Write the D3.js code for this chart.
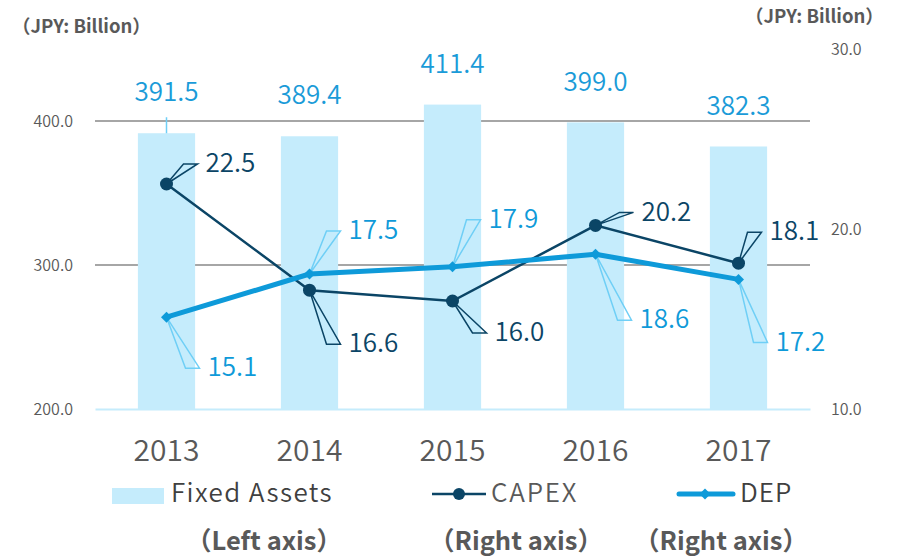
<!DOCTYPE html>
<html>
<head>
<meta charset="utf-8">
<script src="https://cdn.jsdelivr.net/npm/d3@7"></script>
<style>
  body { margin: 0; background: #fff; }
  svg text { font-family: "Noto Sans CJK JP", "Noto Sans", sans-serif; font-weight: 350; }
</style>
</head>
<body>
<div id="chart"></div>
<script>
/* DATA */
const years = ["2013", "2014", "2015", "2016", "2017"];
const fixedAssets = [391.5, 389.4, 411.4, 399.0, 382.3];
const capex = [22.5, 16.6, 16.0, 20.2, 18.1];
const dep = [15.1, 17.5, 17.9, 18.6, 17.2];
const leftTicks = [200, 300, 400];
const rightTicks = [10, 20, 30];

// label placement (text start x / text middle y, relative to the point)
const capexLabelPos = [[39, -20], [39, 54], [42, 32], [46, -13], [31, -31]];
const depLabelPos = [[41, 51], [39, -43], [36, -47], [44, 66], [37, 63]];

/* CONSTANTS */
const width = 897, height = 557;
const plot = { left: 95, right: 810, top: 49, bottom: 409 };
const colors = {
  bar: "#c5ecfc", barText: "#1a9bd8", capex: "#0b4566", dep: "#0e9ad9",
  depLeader: "#6fcff6", grid: "#a6a6a6", axisText: "#595959"
};

const svg = d3.select("#chart").append("svg")
  .attr("width", width).attr("height", height);

/* SCALES */
const x = d3.scaleBand().domain(years).range([plot.left, plot.right])
  .paddingInner(0.6).paddingOuter(0.3);
const yLeft = d3.scaleLinear().domain([200, 450]).range([plot.bottom, plot.top]);
const yRight = d3.scaleLinear().domain([10, 30]).range([plot.bottom, plot.top]);
const cx = d => x(d) + x.bandwidth() / 2;

/* GRID */
svg.append("g").selectAll("line")
  .data(leftTicks.filter(d => d > 200))
  .join("line")
  .attr("x1", plot.left).attr("x2", plot.right)
  .attr("y1", d => yLeft(d)).attr("y2", d => yLeft(d))
  .attr("stroke", colors.grid).attr("stroke-width", 2);

/* AXES */
const leftAxis = svg.append("g")
  .attr("transform", `translate(${plot.left - 19},0)`)
  .call(d3.axisLeft(yLeft).tickValues(leftTicks).tickFormat(d3.format(".1f")).tickSize(0));
leftAxis.select(".domain").remove();
leftAxis.selectAll("text").attr("fill", colors.axisText).attr("font-size", 16).attr("dy", "0.35em");

const rightAxis = svg.append("g")
  .attr("transform", `translate(${plot.right + 18},0)`)
  .call(d3.axisRight(yRight).tickValues(rightTicks).tickFormat(d3.format(".1f")).tickSize(0));
rightAxis.select(".domain").remove();
rightAxis.selectAll("text").attr("fill", colors.axisText).attr("font-size", 16).attr("dy", "0.35em");

const bottomAxis = svg.append("g")
  .attr("transform", `translate(0,${plot.bottom})`)
  .call(d3.axisBottom(x).tickSize(0).tickPadding(31));
bottomAxis.select(".domain").attr("stroke", colors.bar).attr("stroke-width", 2);
bottomAxis.selectAll("text").attr("fill", colors.axisText).attr("font-size", 30)
  .attr("dy", "0.71em");

svg.append("text").attr("x", 12).attr("y", 27).attr("dy", "0.35em")
  .attr("font-size", 18.5).style("font-weight", "bold").attr("fill", colors.axisText)
  .text("（JPY: Billion）");
svg.append("text").attr("x", 745).attr("y", 17).attr("dy", "0.35em")
  .attr("font-size", 18.5).style("font-weight", "bold").attr("fill", colors.axisText)
  .text("（JPY: Billion）");

/* BARS */
svg.append("g").selectAll("rect")
  .data(fixedAssets)
  .join("rect")
  .attr("x", (d, i) => x(years[i]))
  .attr("y", d => yLeft(d))
  .attr("width", x.bandwidth())
  .attr("height", d => plot.bottom - yLeft(d))
  .attr("fill", colors.bar);

svg.append("line")
  .attr("x1", cx(years[0])).attr("x2", cx(years[0]))
  .attr("y1", yLeft(fixedAssets[0]) - 16).attr("y2", yLeft(fixedAssets[0]))
  .attr("stroke", colors.depLeader).attr("stroke-width", 1.5);

svg.append("g").selectAll("text")
  .data(fixedAssets)
  .join("text")
  .attr("x", (d, i) => cx(years[i]))
  .attr("y", d => yLeft(d) - 41)
  .attr("dy", "0.35em")
  .attr("text-anchor", "middle")
  .attr("font-size", 26)
  .attr("fill", colors.barText)
  .text(d => d3.format(".1f")(d));

/* LEADERS + LABELS */
function callouts(values, pos, color, leaderColor) {
  const g = svg.append("g");
  values.forEach((v, i) => {
    const px = cx(years[i]), py = yRight(v);
    const tx = px + pos[i][0], ty = py + pos[i][1];
    g.append("path")
      .attr("d", `M${px},${py}L${tx - 22},${ty}L${tx - 8},${ty}Z`)
      .attr("fill", "none")
      .attr("stroke", leaderColor).attr("stroke-width", 1.5);
    g.append("text")
      .attr("x", tx).attr("y", ty - 1).attr("dy", "0.35em")
      .attr("font-size", 26).attr("fill", color)
      .text(d3.format(".1f")(v));
  });
}

/* LINES */
const line = d3.line().x((d, i) => cx(years[i])).y(d => yRight(d));

callouts(dep, depLabelPos, colors.dep, colors.depLeader);
callouts(capex, capexLabelPos, colors.capex, colors.capex);

svg.append("path").datum(capex)
  .attr("d", line).attr("fill", "none")
  .attr("stroke", colors.capex).attr("stroke-width", 2.5);
svg.append("g").selectAll("circle")
  .data(capex)
  .join("circle")
  .attr("cx", (d, i) => cx(years[i])).attr("cy", d => yRight(d))
  .attr("r", 6.5).attr("fill", colors.capex);

svg.append("path").datum(dep)
  .attr("d", line).attr("fill", "none")
  .attr("stroke", colors.dep).attr("stroke-width", 5).attr("stroke-linejoin", "round");
svg.append("g").selectAll("path")
  .data(dep)
  .join("path")
  .attr("transform", (d, i) => `translate(${cx(years[i])},${yRight(d)}) rotate(45)`)
  .attr("d", d3.symbol().type(d3.symbolSquare).size(60))
  .attr("fill", colors.dep);

/* LEGEND */
const legend = svg.append("g");
legend.append("rect").attr("x", 112).attr("y", 488).attr("width", 52).attr("height", 16)
  .attr("fill", colors.bar);
legend.append("text").attr("x", 171).attr("y", 493).attr("dy", "0.35em")
  .attr("font-size", 26).attr("letter-spacing", 1.4).attr("fill", "#404040").text("Fixed Assets");

legend.append("line").attr("x1", 432).attr("x2", 486).attr("y1", 494).attr("y2", 494)
  .attr("stroke", colors.capex).attr("stroke-width", 2.5);
legend.append("circle").attr("cx", 459).attr("cy", 494).attr("r", 6).attr("fill", colors.capex);
legend.append("text").attr("x", 491).attr("y", 493).attr("dy", "0.35em")
  .attr("font-size", 26).attr("letter-spacing", 1.8).attr("fill", "#595959").text("CAPEX");

legend.append("line").attr("x1", 679).attr("x2", 733).attr("y1", 494).attr("y2", 494)
  .attr("stroke", colors.dep).attr("stroke-width", 5).attr("stroke-linecap", "round");
legend.append("path").attr("transform", "translate(705,494) rotate(45)")
  .attr("d", d3.symbol().type(d3.symbolSquare).size(60)).attr("fill", colors.dep);
legend.append("text").attr("x", 740).attr("y", 493).attr("dy", "0.35em")
  .attr("font-size", 26).attr("letter-spacing", 1).attr("fill", "#404040").text("DEP");

const axisNotes = [["（Left axis）", 264], ["（Right axis）", 516], ["（Right axis）", 721]];
legend.selectAll("text.note")
  .data(axisNotes)
  .join("text")
  .attr("class", "note")
  .attr("x", d => d[1]).attr("y", 541).attr("dy", "0.35em")
  .attr("text-anchor", "middle")
  .attr("font-size", 25.5).style("font-weight", "bold").attr("fill", colors.axisText)
  .text(d => d[0]);
</script>
</body>
</html>
